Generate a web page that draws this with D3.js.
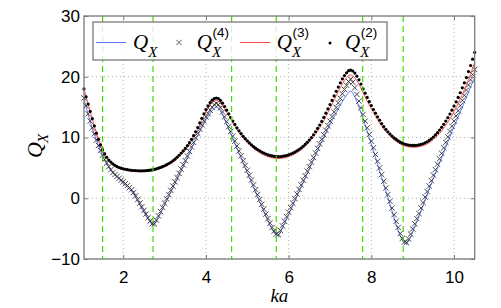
<!DOCTYPE html>
<html>
<head>
<meta charset="utf-8">
<script src="https://cdn.jsdelivr.net/npm/d3@7"></script>
<style>
body{margin:0;background:#fff;}
svg{display:block;}
</style>
</head>
<body>
<svg id="chart" width="501" height="308"></svg>
<script>
/* 数据 */
// ka 采样起点与步长
var KA_START=1.05;
var KA_STEP=0.05;
// Q_X（蓝线）
var Q_X=[
16.4,15.1,13.8,12.6,11.5,10.5,9.5,8.6,7.8,7.0,
6.3,5.7,5.1,4.6,4.15,3.8,3.45,3.1,2.75,2.45,
2.1,1.8,1.45,1.1,0.65,0.1,-0.5,-1.1,-1.7,-2.3,
-2.9,-3.45,-3.95,-4.35,-4.3,-3.8,-3.15,-2.5,-1.8,-1.1,
-0.4,0.3,1.0,1.7,2.4,3.1,3.8,4.5,5.2,5.9,
6.65,7.4,8.15,8.9,9.65,10.3,11.0,11.65,12.25,12.9,
13.4,13.9,14.4,14.8,15.0,14.85,14.4,13.75,13.0,12.2,
11.4,10.6,9.8,9.0,8.2,7.4,6.6,5.8,5.0,4.2,
3.4,2.6,1.8,1.0,0.2,-0.6,-1.4,-2.2,-3.0,-3.75,
-4.5,-5.15,-5.7,-6.1,-6.15,-5.6,-4.95,-4.2,-3.45,-2.7,
-1.95,-1.2,-0.45,0.3,1.05,1.8,2.55,3.3,4.05,4.8,
5.55,6.3,7.05,7.8,8.55,9.3,10.0,10.7,11.4,12.1,
12.75,13.4,14.05,14.7,15.35,15.95,16.5,17.0,17.4,17.7,
17.3,16.7,15.9,15.0,14.1,13.1,12.1,11.05,10.0,8.9,
7.8,6.7,5.6,4.5,3.4,2.3,1.2,0.1,-1.0,-2.1,
-3.2,-4.3,-5.3,-6.2,-6.9,-7.4,-7.5,-7.1,-6.4,-5.55,
-4.7,-3.85,-3.0,-2.1,-1.2,-0.3,0.6,1.5,2.4,3.3,
4.1,4.95,5.8,6.65,7.5,8.4,9.25,10.1,10.95,11.75,
12.55,13.4,14.2,15.0,15.85,16.65,17.45,18.3,19.1,19.9];
// Q_X^(4)（叉号）
var Q_X4=[
16.5,15.2,13.9,12.7,11.6,10.6,9.6,8.7,7.9,7.1,
6.4,5.8,5.2,4.7,4.25,3.9,3.6,3.3,3.0,2.7,
2.4,2.1,1.75,1.4,0.95,0.4,-0.2,-0.8,-1.4,-2.0,
-2.6,-3.2,-3.75,-4.2,-4.2,-3.6,-2.9,-2.2,-1.5,-0.8,
-0.1,0.6,1.3,2.0,2.7,3.4,4.1,4.8,5.5,6.2,
6.95,7.7,8.45,9.2,9.95,10.7,11.4,12.1,12.75,13.4,
13.95,14.5,15.0,15.4,15.6,15.4,14.9,14.2,13.4,12.6,
11.8,11.0,10.2,9.4,8.6,7.8,7.0,6.2,5.4,4.6,
3.8,3.0,2.2,1.4,0.6,-0.2,-1.0,-1.8,-2.6,-3.35,
-4.1,-4.8,-5.4,-5.9,-6.0,-5.3,-4.55,-3.8,-3.05,-2.3,
-1.55,-0.8,-0.05,0.7,1.45,2.2,2.95,3.7,4.45,5.2,
5.95,6.7,7.45,8.2,8.95,9.7,10.45,11.2,11.95,12.7,
13.45,14.2,14.95,15.7,16.45,17.2,17.9,18.6,19.2,19.6,
19.1,18.2,17.1,16.0,14.9,13.8,12.7,11.6,10.5,9.4,
8.3,7.2,6.1,5.0,3.9,2.8,1.7,0.6,-0.5,-1.6,
-2.7,-3.8,-4.8,-5.8,-6.6,-7.2,-7.3,-6.7,-5.9,-5.05,
-4.2,-3.35,-2.5,-1.6,-0.7,0.2,1.1,2.0,2.9,3.8,
4.7,5.6,6.5,7.4,8.3,9.2,10.1,11.0,11.85,12.7,
13.55,14.4,15.25,16.1,16.95,17.8,18.65,19.5,20.35,21.2];
// Q_X^(3)（红线）
var Q_X3=[
18.0,16.7,15.5,14.3,13.1,11.9,10.7,9.7,8.8,7.9,
7.15,6.6,6.15,5.8,5.5,5.25,5.05,4.9,4.8,4.7,
4.62,4.55,4.5,4.45,4.42,4.4,4.38,4.37,4.37,4.38,
4.4,4.43,4.47,4.53,4.6,4.69,4.8,4.93,5.05,5.2,
5.32,5.52,5.73,5.97,6.18,6.5,6.83,7.2,7.5,7.9,
8.35,8.85,9.4,9.95,10.6,11.3,12.05,12.8,13.5,14.2,
14.8,15.35,15.75,16.0,16.1,16.02,15.7,15.25,14.75,14.15,
13.6,13.0,12.4,11.85,11.3,10.8,10.35,9.9,9.5,9.15,
8.8,8.5,8.2,7.95,7.72,7.5,7.3,7.13,6.98,6.85,
6.75,6.67,6.6,6.56,6.55,6.56,6.6,6.66,6.74,6.85,
6.98,7.13,7.3,7.5,7.72,7.97,8.25,8.56,8.9,9.28,
9.65,10.05,10.55,11.05,11.6,12.15,12.8,13.45,14.15,14.8,
15.5,16.2,16.9,17.6,18.25,18.85,19.4,19.85,20.2,20.3,
20.15,19.8,19.35,18.8,18.1,17.35,16.7,16.0,15.35,14.75,
14.1,13.5,12.95,12.4,11.9,11.4,10.95,10.6,10.23,9.9,
9.65,9.38,9.14,8.93,8.76,8.63,8.53,8.46,8.41,8.4,
8.4,8.42,8.48,8.57,8.62,8.77,8.95,9.12,9.38,9.68,
9.97,10.3,10.67,11.08,11.52,12.0,12.52,13.07,13.65,14.27,
14.92,15.6,16.32,17.07,17.85,18.62,19.5,20.4,21.4,22.4];
// Q_X^(2)（黑点）
var Q_X2=[
18.0,16.7,15.5,14.3,13.1,11.9,10.7,9.7,8.8,8.0,
7.3,6.75,6.3,5.95,5.65,5.4,5.2,5.05,4.95,4.85,
4.77,4.7,4.65,4.6,4.57,4.55,4.53,4.52,4.52,4.53,
4.55,4.58,4.62,4.68,4.75,4.84,4.95,5.08,5.2,5.35,
5.52,5.72,5.93,6.17,6.43,6.75,7.08,7.45,7.8,8.2,
8.65,9.15,9.7,10.3,10.95,11.65,12.4,13.15,13.9,14.6,
15.2,15.75,16.15,16.4,16.5,16.42,16.1,15.65,15.1,14.5,
13.9,13.3,12.7,12.15,11.6,11.1,10.65,10.2,9.8,9.45,
9.1,8.8,8.5,8.25,8.02,7.8,7.6,7.43,7.28,7.15,
7.05,6.97,6.9,6.86,6.85,6.86,6.9,6.96,7.04,7.15,
7.28,7.43,7.6,7.8,8.02,8.27,8.55,8.86,9.2,9.58,
10.0,10.45,10.95,11.5,12.05,12.65,13.3,14.0,14.7,15.4,
16.1,16.85,17.6,18.3,19.0,19.65,20.2,20.65,21.0,21.1,
20.95,20.6,20.1,19.5,18.8,18.0,17.3,16.6,15.9,15.25,
14.6,14.0,13.4,12.85,12.3,11.8,11.35,10.95,10.58,10.25,
9.95,9.68,9.44,9.23,9.06,8.93,8.83,8.76,8.71,8.7,
8.7,8.72,8.78,8.87,8.97,9.12,9.3,9.52,9.78,10.08,
10.42,10.8,11.22,11.68,12.17,12.7,13.27,13.87,14.5,15.17,
15.87,16.6,17.37,18.17,19.0,19.87,20.85,21.85,22.9,24.0];
// 绿色虚线位置
var MARK_KA=[1.5,2.72,4.62,5.7,7.79,8.77];
// 刻度
var X_TICKS=[2,4,6,8,10];
var Y_TICKS=[-10,0,10,20,30];
// 图例上标
var LEGEND_SUP=["","(4)","(3)","(2)"];

/* Global Config */
var PLOT_LEFT=84, PLOT_RIGHT=474.7, PLOT_TOP=16, PLOT_BOTTOM=259;
var FRAME_COLOR="#7a7a7a";
var BLUE="#5f78ff";
var RED="#ff4c4c";
var GREEN="#3fdc00";
var CROSS="M-2.7,-2.7L2.7,2.7M-2.7,2.7L2.7,-2.7";
var TICK_FONT="'Liberation Sans', Arial, sans-serif";
var MATH_FONT="'Liberation Serif', 'Times New Roman', serif";

var svg=d3.select("#chart");
var KA=Q_X.map(function(d,i){return +(KA_START+i*KA_STEP).toFixed(2);});

var x=d3.scaleLinear().domain([KA_START,10.5]).range([PLOT_LEFT,PLOT_RIGHT]);
var y=d3.scaleLinear().domain([-10,30]).range([PLOT_BOTTOM,PLOT_TOP]);

drawGrid();
drawCurves();
drawMarkLines();
drawFrame();
drawLegend();
drawLabels();

//网格
function drawGrid(){
	svg.append("g").selectAll("line").data(X_TICKS).enter().append("line")
		.attr("x1",function(d){return x(d);}).attr("x2",function(d){return x(d);})
		.attr("y1",PLOT_TOP).attr("y2",PLOT_BOTTOM)
		.style("stroke","#b4b4b4").style("stroke-width",1)
		.attr("stroke-dasharray","1 3");
	svg.append("g").selectAll("line").data(Y_TICKS).enter().append("line")
		.attr("x1",PLOT_LEFT).attr("x2",PLOT_RIGHT)
		.attr("y1",function(d){return y(d);}).attr("y2",function(d){return y(d);})
		.style("stroke","#b4b4b4").style("stroke-width",1)
		.attr("stroke-dasharray","1 3");
}

//曲线与标记
function drawCurves(){
	var line=function(vals){
		return d3.line().x(function(d,i){return x(KA[i]);}).y(function(d){return y(d);})(vals);
	};
	svg.append("path").attr("d",line(Q_X))
		.style("fill","none").style("stroke",BLUE).style("stroke-width",1);
	svg.append("g").selectAll("path").data(Q_X4).enter().append("path")
		.attr("d",CROSS)
		.attr("transform",function(d,i){return "translate("+x(KA[i])+","+y(d)+")";})
		.style("stroke","#333").style("stroke-width",0.9).style("fill","none");
	svg.append("path").attr("d",line(Q_X3))
		.style("fill","none").style("stroke",RED).style("stroke-width",1);
	svg.append("g").selectAll("circle").data(Q_X2).enter().append("circle")
		.attr("cx",function(d,i){return x(KA[i]);})
		.attr("cy",function(d){return y(d);})
		.attr("r",1.6).style("fill","#000");
}

//绿色竖虚线
function drawMarkLines(){
	svg.append("g").selectAll("line").data(MARK_KA).enter().append("line")
		.attr("x1",function(d){return x(d);}).attr("x2",function(d){return x(d);})
		.attr("y1",PLOT_TOP).attr("y2",PLOT_BOTTOM)
		.style("stroke",GREEN).style("stroke-width",1.2)
		.attr("stroke-dasharray","6 4");
}

//坐标框与刻度
function drawFrame(){
	var font=function(g){
		g.select(".domain").remove();
		g.selectAll("line").style("stroke",FRAME_COLOR);
		g.selectAll("text").style("font-family",TICK_FONT).style("font-size","17px").style("fill","#000");
	};
	svg.append("g").attr("transform","translate(0,"+PLOT_BOTTOM+")")
		.call(d3.axisBottom(x).tickValues(X_TICKS).tickSizeInner(-4).tickSizeOuter(0).tickPadding(12))
		.call(font);
	svg.append("g").attr("transform","translate(0,"+PLOT_TOP+")")
		.call(d3.axisTop(x).tickValues(X_TICKS).tickSizeInner(-4).tickSizeOuter(0).tickFormat(""))
		.call(font);
	svg.append("g").attr("transform","translate("+PLOT_LEFT+",0)")
		.call(d3.axisLeft(y).tickValues(Y_TICKS).tickSizeInner(-4).tickSizeOuter(0).tickPadding(4))
		.call(font);
	svg.append("g").attr("transform","translate("+PLOT_RIGHT+",0)")
		.call(d3.axisRight(y).tickValues(Y_TICKS).tickSizeInner(-4).tickSizeOuter(0).tickFormat(""))
		.call(font);
	svg.append("rect")
		.attr("x",PLOT_LEFT).attr("y",PLOT_TOP)
		.attr("width",PLOT_RIGHT-PLOT_LEFT).attr("height",PLOT_BOTTOM-PLOT_TOP)
		.style("fill","none").style("stroke",FRAME_COLOR).style("stroke-width",1.3);
}

//图例
function drawLegend(){
	var box={x:93,y:22,w:294,h:38};
	var symX=[111,179,255,330];
	var textX=[133,196.7,276.7,345];
	var midY=42.5;
	var g=svg.append("g");
	g.append("rect").attr("x",box.x).attr("y",box.y).attr("width",box.w).attr("height",box.h)
		.style("fill","#fff").style("fill-opacity",0.8)
		.style("stroke",FRAME_COLOR).style("stroke-width",1.3);
	g.append("line").attr("x1",symX[0]-15).attr("x2",symX[0]+15).attr("y1",midY).attr("y2",midY)
		.style("stroke",BLUE).style("stroke-width",1);
	g.append("path").attr("d",CROSS)
		.attr("transform","translate("+symX[1]+","+midY+")")
		.style("stroke","#333").style("stroke-width",0.8);
	g.append("line").attr("x1",symX[2]-15).attr("x2",symX[2]+15).attr("y1",midY).attr("y2",midY)
		.style("stroke",RED).style("stroke-width",1);
	g.append("circle").attr("cx",symX[3]).attr("cy",midY+0.5).attr("r",1.5).style("fill","#000");
	for(var i=0;i<LEGEND_SUP.length;i++){
		g.append("text").text("Q").attr("x",textX[i]).attr("y",49)
			.style("font-family",MATH_FONT).style("font-style","italic").style("font-size","21px");
		g.append("text").text("X").attr("x",textX[i]+15.3).attr("y",57)
			.style("font-family",MATH_FONT).style("font-style","italic").style("font-size","15px");
		if(LEGEND_SUP[i]){
			g.append("text").text(LEGEND_SUP[i]).attr("x",textX[i]+15.8).attr("y",37)
				.style("font-family",TICK_FONT).style("font-size","13.5px");
		}
	}
}

//坐标轴标题
function drawLabels(){
	svg.append("text").text("ka")
		.attr("x",(PLOT_LEFT+PLOT_RIGHT)/2).attr("y",302)
		.attr("text-anchor","middle")
		.style("font-family",MATH_FONT).style("font-style","italic").style("font-size","19px");
	var yl=svg.append("text").attr("transform","translate(42,158) rotate(-90)")
		.style("font-family",MATH_FONT).style("font-style","italic");
	yl.append("tspan").text("Q").style("font-size","22px");
	yl.append("tspan").text("X").attr("dy",6).attr("dx",-1).style("font-size","15px");
}
</script>
</body>
</html>
